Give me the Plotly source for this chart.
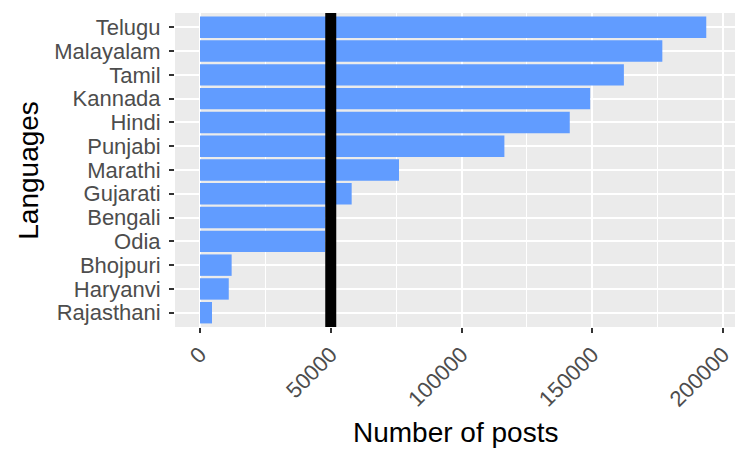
import plotly.graph_objects as go

languages = ['Rajasthani', 'Haryanvi', 'Bhojpuri', 'Odia', 'Bengali', 'Gujarati',
             'Marathi', 'Punjabi', 'Hindi', 'Kannada', 'Tamil', 'Malayalam', 'Telugu']
posts = [4600, 11000, 12100, 47800, 47900, 58000,
         76100, 116400, 141400, 149200, 162100, 176800, 193600]
threshold = 50000
x_ticks = [0, 50000, 100000, 150000, 200000]
x_minor = [25000, 75000, 125000, 175000]

fig = go.Figure()
fig.add_trace(go.Bar(
    y=languages, x=posts, orientation='h',
    marker=dict(color='#619CFF', line=dict(width=0)),
    width=0.9, showlegend=False,
))

# vertical reference line at 50000
fig.add_shape(type='line', xref='x', yref='paper',
              x0=threshold, x1=threshold, y0=0, y1=1,
              line=dict(color='black', width=11))

# axis titles as annotations for exact placement
fig.add_annotation(text='Number of posts', xref='paper', yref='paper',
                   x=0.5, y=-0.335, xanchor='center', yanchor='middle',
                   showarrow=False, font=dict(size=28, color='black'))
fig.add_annotation(text='Languages', xref='paper', yref='paper',
                   x=-0.263, y=0.5, xanchor='center', yanchor='middle',
                   textangle=-90, showarrow=False, font=dict(size=28, color='black'))

fig.update_layout(
    width=747, height=462,
    margin=dict(l=175, r=12, t=13, b=135),
    paper_bgcolor='white', plot_bgcolor='#EBEBEB',
    font=dict(family='Liberation Sans, Arial, sans-serif', color='#4D4D4D', size=22),
    bargap=0.1,
)
fig.update_xaxes(
    range=[-9560, 204590], tickvals=x_ticks, ticktext=[str(v) for v in x_ticks],
    tickangle=-45, ticks='outside', ticklen=5, tickwidth=2, tickcolor='#333333',
    showgrid=True, gridcolor='white', gridwidth=2,
    minor=dict(tickvals=x_minor, showgrid=True, gridcolor='white', gridwidth=1),
    zeroline=False, showline=False, automargin=False,
)
fig.update_yaxes(
    categoryorder='array', categoryarray=languages,
    tickmode='array', tickvals=languages, ticktext=languages,
    range=[-0.6, 12.6],
    ticks='outside', ticklen=5, tickwidth=2, tickcolor='#333333',
    ticklabelstandoff=4,
    showgrid=True, gridcolor='white', gridwidth=2,
    zeroline=False, showline=False, automargin=False,
)

fig.write_html("out.html", config={'displayModeBar': False},
               post_script="document.body.style.margin='0';")
